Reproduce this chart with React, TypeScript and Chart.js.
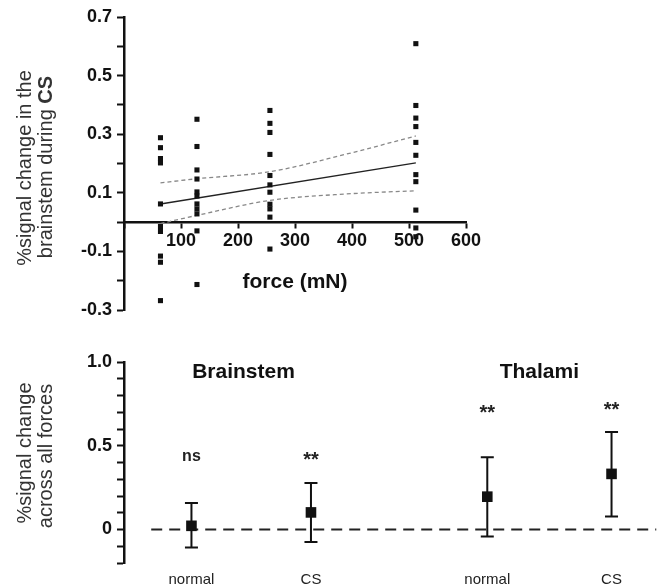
import React, { useEffect, useRef } from 'react';
import { Chart, registerables } from 'chart.js';

Chart.register(...registerables);

const FONT = '"Liberation Sans", Arial, Helvetica, sans-serif';

// ---------- top panel data ----------
const forceLevels = [64, 128, 256, 512];
const signal64 = [0.288, 0.254, 0.217, 0.202, 0.062, -0.015, -0.032, -0.116, -0.137, -0.268];
const signal128 = [0.351, 0.258, 0.178, 0.147, 0.103, 0.089, 0.062, 0.045, 0.028, -0.03, -0.213];
const signal256 = [0.381, 0.337, 0.306, 0.231, 0.159, 0.127, 0.102, 0.061, 0.045, 0.017, -0.092];
const signal512 = [0.609, 0.398, 0.355, 0.326, 0.272, 0.228, 0.162, 0.138, 0.041, -0.02, -0.05];
const fitForce = [64, 512];
const fitValue = [0.062, 0.202];
const bandForce = [64, 128, 256, 390, 512];
const bandUpper = [0.134, 0.148, 0.172, 0.232, 0.294];
const bandLower = [-0.005, 0.023, 0.074, 0.096, 0.107];
const topXTicks = [100, 200, 300, 400, 500, 600];
const topYTicks = [-0.3, -0.1, 0.1, 0.3, 0.5, 0.7];
const topYLabels = ['-0.3', '-0.1', '0.1', '0.3', '0.5', '0.7'];
const topXTitle = 'force (mN)';
const topXTitlePos = [300, -0.204];

// ---------- bottom panel data ----------
const groupLabels = ['normal', 'CS', 'normal', 'CS'];
const groupPos = [0.57, 1.58, 3.07, 4.12];
const groupMean = [0.022, 0.102, 0.196, 0.332];
const groupUpper = [0.158, 0.278, 0.432, 0.582];
const groupLower = [-0.108, -0.074, -0.042, 0.078];
const groupSig = ['ns', '**', '**', '**'];
const sigLevel = [0.436, 0.44, 0.722, 0.74];
const regionNames = ['Brainstem', 'Thalami'];
const regionPos = [1.01, 3.51];
const regionLevel = [0.94, 0.94];
const bottomYTicks = [0, 0.5, 1.0];
const bottomYLabels = ['0', '0.5', '1.0'];
const zeroLineX = [0.23, 4.5];
const zeroLineY = [0, 0];

type Part = { text: string; bold?: boolean };
type Title = { x: number; y: number; parts: Part[] };
type Item = { text: string; x: number; y: number; font: string; dy?: number; color?: string };

function makeTextPlugin(items: Item[], titles: Title[]) {
  return {
    id: 'texts',
    afterDraw(chart: any) {
      const ctx = chart.ctx as CanvasRenderingContext2D;
      const xs = chart.scales.x;
      const ys = chart.scales.y;
      for (const it of items) {
        ctx.save();
        ctx.font = it.font;
        ctx.fillStyle = it.color || '#111';
        ctx.textAlign = 'center';
        ctx.textBaseline = 'middle';
        ctx.fillText(it.text, xs.getPixelForValue(it.x), ys.getPixelForValue(it.y) + (it.dy || 0));
        ctx.restore();
      }
      for (const t of titles) {
        ctx.save();
        ctx.translate(t.x, t.y);
        ctx.rotate(-Math.PI / 2);
        ctx.fillStyle = '#333';
        ctx.textBaseline = 'middle';
        ctx.textAlign = 'left';
        const fonts = t.parts.map((p) => (p.bold ? `bold 20px ${FONT}` : `20px ${FONT}`));
        let total = 0;
        const widths = t.parts.map((p, i) => {
          ctx.font = fonts[i];
          const w = ctx.measureText(p.text).width;
          total += w;
          return w;
        });
        let cx = -total / 2;
        t.parts.forEach((p, i) => {
          ctx.font = fonts[i];
          ctx.fillText(p.text, cx, 0);
          cx += widths[i];
        });
        ctx.restore();
      }
    },
  };
}

const near = (v: number, arr: number[]) => arr.findIndex((a) => Math.abs(a - v) < 1e-6);

function TopChart() {
  const ref = useRef<HTMLCanvasElement>(null);
  useEffect(() => {
    const groups = [signal64, signal128, signal256, signal512];
    const pts = forceLevels.flatMap((f, i) => groups[i].map((v) => ({ x: f, y: v })));
    const fit = fitForce.map((f, i) => ({ x: f, y: fitValue[i] }));
    const up = bandForce.map((f, i) => ({ x: f, y: bandUpper[i] }));
    const lo = bandForce.map((f, i) => ({ x: f, y: bandLower[i] }));
    const chart = new Chart(ref.current!, {
      type: 'scatter',
      data: {
        datasets: [
          { data: pts, pointStyle: 'rect', pointRadius: 3.6, backgroundColor: '#111', borderWidth: 0, clip: false } as any,
          { data: fit, showLine: true, borderColor: '#222', borderWidth: 1.4, pointRadius: 0 } as any,
          { data: up, showLine: true, borderColor: '#888', borderWidth: 1.3, borderDash: [4, 3], pointRadius: 0, cubicInterpolationMode: 'monotone' } as any,
          { data: lo, showLine: true, borderColor: '#888', borderWidth: 1.3, borderDash: [4, 3], pointRadius: 0, cubicInterpolationMode: 'monotone' } as any,
        ],
      },
      options: {
        responsive: false,
        animation: false,
        devicePixelRatio: 1,
        layout: { padding: { left: 0, right: 198, top: 17, bottom: 20 } },
        plugins: { legend: { display: false }, tooltip: { enabled: false } },
        scales: {
          x: {
            type: 'linear',
            position: { y: 0 } as any,
            min: 0,
            max: 600,
            ticks: {
              stepSize: 100,
              autoSkip: false,
              maxRotation: 0,
              padding: 3,
              color: '#111',
              font: { family: FONT, size: 18, weight: 'bold' },
              callback: (v: any) => (near(Number(v), topXTicks) >= 0 ? String(v) : ''),
            },
            grid: { drawOnChartArea: false, drawTicks: true, tickLength: 5, tickWidth: 2, tickColor: '#111' },
            border: { display: true, color: '#111', width: 2.5 },
          },
          y: {
            type: 'linear',
            min: -0.3,
            max: 0.7,
            afterFit: (s: any) => {
              s.width = 124;
            },
            ticks: {
              stepSize: 0.1,
              autoSkip: false,
              padding: 5,
              color: '#111',
              font: { family: FONT, size: 18, weight: 'bold' },
              callback: (v: any) => {
                const k = near(Number(v), topYTicks);
                return k >= 0 ? topYLabels[k] : '';
              },
            },
            grid: { drawOnChartArea: false, drawTicks: true, tickLength: 7, tickWidth: 2, tickColor: '#111' },
            border: { display: true, color: '#111', width: 2.5 },
          },
        },
      },
      plugins: [
        makeTextPlugin(
          [{ text: topXTitle, x: topXTitlePos[0], y: topXTitlePos[1], font: `bold 21px ${FONT}` }],
          [
            { x: 25, y: 168, parts: [{ text: '%signal change in the' }] },
            { x: 46, y: 167, parts: [{ text: 'brainstem during ' }, { text: 'CS', bold: true }] },
          ]
        ) as any,
      ],
    });
    return () => chart.destroy();
  }, []);
  return <canvas ref={ref} width={664} height={330} style={{ position: 'absolute', left: 0, top: 0 }} />;
}

function BottomChart() {
  const ref = useRef<HTMLCanvasElement>(null);
  useEffect(() => {
    const markers = groupPos.map((p, i) => ({ x: p, y: groupMean[i] }));
    const zero = zeroLineX.map((p, i) => ({ x: p, y: zeroLineY[i] }));
    const errPlugin = {
      id: 'errbars',
      afterDatasetDraw(chart: any, args: any) {
        if (args.index !== 1) return;
        const ctx = chart.ctx as CanvasRenderingContext2D;
        const xs = chart.scales.x;
        const ys = chart.scales.y;
        ctx.save();
        ctx.strokeStyle = '#111';
        ctx.lineWidth = 2;
        groupPos.forEach((p, i) => {
          const x = xs.getPixelForValue(p);
          const yt = ys.getPixelForValue(groupUpper[i]);
          const yb = ys.getPixelForValue(groupLower[i]);
          ctx.beginPath();
          ctx.moveTo(x, yt);
          ctx.lineTo(x, yb);
          ctx.moveTo(x - 6.5, yt);
          ctx.lineTo(x + 6.5, yt);
          ctx.moveTo(x - 6.5, yb);
          ctx.lineTo(x + 6.5, yb);
          ctx.stroke();
        });
        ctx.restore();
      },
    };
    const items: Item[] = [
      ...groupSig.map((s, i) => ({
        text: s,
        x: groupPos[i],
        y: sigLevel[i],
        font: s === 'ns' ? `bold 16px ${FONT}` : `bold 20px ${FONT}`,
        dy: s === 'ns' ? 0 : 5,
        color: '#222',
      })),
      ...regionNames.map((r, i) => ({ text: r, x: regionPos[i], y: regionLevel[i], font: `bold 21px ${FONT}` })),
    ];
    const chart = new Chart(ref.current!, {
      type: 'scatter',
      data: {
        datasets: [
          { data: markers, pointStyle: 'rect', pointRadius: 7.5, backgroundColor: '#111', borderWidth: 0, clip: false } as any,
          { data: zero, showLine: true, borderColor: '#222', borderWidth: 2, borderDash: [11, 7], pointRadius: 0 } as any,
        ],
      },
      options: {
        responsive: false,
        animation: false,
        devicePixelRatio: 1,
        layout: { padding: { left: 0, right: 0, top: 32, bottom: 0 } },
        plugins: { legend: { display: false }, tooltip: { enabled: false } },
        scales: {
          x: {
            type: 'linear',
            min: 0,
            max: 4.5,
            afterBuildTicks: (s: any) => {
              s.ticks = groupPos.map((v) => ({ value: v }));
            },
            afterFit: (s: any) => {
              s.height = 22;
            },
            ticks: {
              autoSkip: false,
              maxRotation: 0,
              padding: 0,
              color: '#222',
              font: { family: FONT, size: 15 },
              callback: (_v: any, i: number) => groupLabels[i],
            },
            grid: { display: false },
            border: { display: false },
          },
          y: {
            type: 'linear',
            min: -0.2,
            max: 1.0,
            afterFit: (s: any) => {
              s.width = 124;
            },
            ticks: {
              stepSize: 0.1,
              autoSkip: false,
              padding: 5,
              color: '#111',
              font: { family: FONT, size: 18, weight: 'bold' },
              callback: (v: any) => {
                const k = near(Number(v), bottomYTicks);
                return k >= 0 ? bottomYLabels[k] : '';
              },
            },
            grid: { drawOnChartArea: false, drawTicks: true, tickLength: 7, tickWidth: 2, tickColor: '#111' },
            border: { display: true, color: '#111', width: 2.5 },
          },
        },
      },
      plugins: [
        errPlugin as any,
        makeTextPlugin(items, [
          { x: 25, y: 123, parts: [{ text: '%signal change' }] },
          { x: 46, y: 126, parts: [{ text: 'across all forces' }] },
        ]) as any,
      ],
    });
    return () => chart.destroy();
  }, []);
  return <canvas ref={ref} width={664} height={255} style={{ position: 'absolute', left: 0, top: 330 }} />;
}

export default function App() {
  return (
    <div style={{ position: 'absolute', left: 0, top: 0, width: 664, height: 585, background: '#fff', overflow: 'hidden' }}>
      <TopChart />
      <BottomChart />
    </div>
  );
}
